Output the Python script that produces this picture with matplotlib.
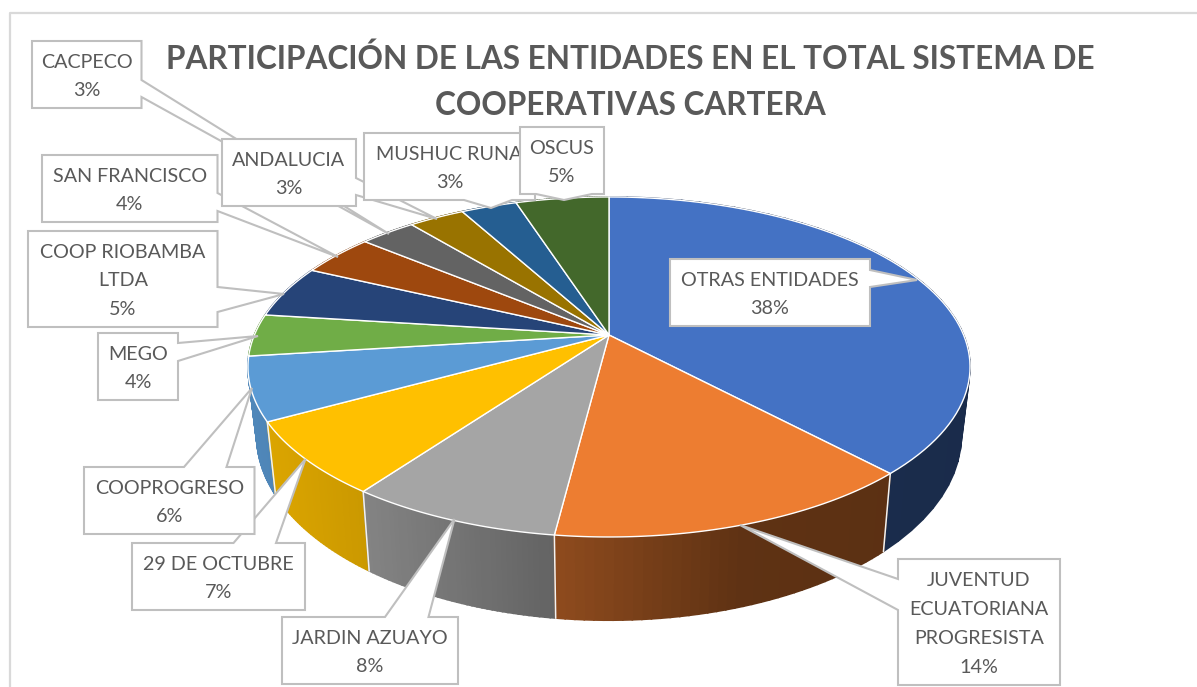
import numpy as np
import matplotlib
matplotlib.use('Agg')
import matplotlib.pyplot as plt
from matplotlib.colors import to_rgb

titulo = 'PARTICIPACIÓN DE LAS ENTIDADES EN EL TOTAL SISTEMA DE\nCOOPERATIVAS CARTERA'

# clockwise from 12 o'clock
entidades = ['OTRAS ENTIDADES', 'JUVENTUD\nECUATORIANA\nPROGRESISTA', 'JARDIN AZUAYO', '29 DE OCTUBRE',
             'COOPROGRESO', 'MEGO', 'COOP RIOBAMBA\nLTDA', 'SAN FRANCISCO', 'CACPECO', 'ANDALUCIA',
             'MUSHUC RUNA', 'OSCUS']
porcentajes = [38, 14, 8, 7, 6, 4, 5, 4, 3, 3, 3, 5]
colores = ['#4472C4', '#ED7D31', '#A5A5A5', '#FFC000', '#5B9BD5', '#70AD47',
           '#264478', '#9E480E', '#636363', '#997300', '#255E91', '#43682B']

# box (x0, y0, x1, y1), side of the callout, callout base and tip, in pixels
cajas = [(670, 259, 870, 326), (898, 559, 1060, 685), (282, 617, 458, 684), (132, 543, 305, 610),
         (84, 467, 254.5, 534), (98, 333, 178, 400), (28, 231, 217.5, 327), (42, 155, 217.5, 222),
         (32, 41, 141.5, 108), (222, 139, 356, 206), (364, 133, 535, 200), (520, 127, 604, 194)]
lados = ['r', 'l', 't', 't', 't', 'r', 'r', 'r', 'r', 'r', 'b', 'b']
bases = [(270, 287), (579, 610), (385, 428.5), (233.5, 276), (184, 226.5), (343, 361),
         (287, 312), (193, 211), (80, 97), (178, 195), (464, 512), (536, 592)]
puntas = [(917, 280), (740, 525), (454.5, 519), (305.5, 459), (252, 388), (258, 336),
          (284, 294), (338, 257), (389, 234), (437, 219), (491, 208), (564, 200)]

# perspective of the pie on the page
CX, CY = 609, 335
K = 0.188
TOP_A, TOP_B = 354.6, 164
BOT_A, BOT_B, BOT_C = 346, 178, 401


def borde(ang, a, b, c):
    u, v = np.sin(ang), -np.cos(ang)
    d = 1 - K * v
    return CX + a * u / d, c + b * v / d


def sombra(x):
    return np.interp(x, [250, 370, 555, 740, 970], [0.87, 0.79, 0.60, 0.40, 0.38])


def callout(i):
    x0, y0, x1, y1 = cajas[i]
    b0, b1 = bases[i]
    p = puntas[i]
    if lados[i] == 't':
        return [(x0, y0), (b0, y0), p, (b1, y0), (x1, y0), (x1, y1), (x0, y1)]
    if lados[i] == 'r':
        return [(x0, y0), (x1, y0), (x1, b0), p, (x1, b1), (x1, y1), (x0, y1)]
    if lados[i] == 'b':
        return [(x0, y0), (x1, y0), (x1, y1), (b1, y1), p, (b0, y1), (x0, y1)]
    return [(x0, y0), (x1, y0), (x1, y1), (x0, y1), (x0, b1), p, (x0, b0)]


plt.rcParams['font.family'] = ['Lato', 'DejaVu Sans']

fig = plt.figure(figsize=(11.97, 6.87), dpi=100)
ax = fig.add_axes([0, 0, 1, 1])
ax.set_xlim(0, 1197)
ax.set_ylim(687, 0)
ax.axis('off')

# chart frame, cut by the crop on the right and bottom
ax.plot([10, 10, 1197], [687, 13, 13], color='#D9D9D9', lw=1.6, zorder=1)

limites = np.cumsum([0] + porcentajes) / sum(porcentajes) * 2 * np.pi
medios = (limites[:-1] + limites[1:]) / 2

# side wall, back slices first
for i in np.argsort(-np.cos(medios)):
    t = np.linspace(limites[i], limites[i + 1], 40)
    xs, ys = borde(t, TOP_A, TOP_B, CY)
    xb, yb = borde(t, BOT_A, BOT_B, BOT_C)
    base = np.array(to_rgb(colores[i]))
    for j in range(len(t) - 1):
        c = base * sombra((xs[j] + xs[j + 1]) / 2)
        ax.fill([xs[j], xs[j + 1], xb[j + 1], xb[j]], [ys[j], ys[j + 1], yb[j + 1], yb[j]],
                color=c, lw=1.2, zorder=2)

for lim in limites[1:5]:
    xs, ys = borde(lim, TOP_A, TOP_B, CY)
    xb, yb = borde(lim, BOT_A, BOT_B, BOT_C)
    ax.plot([xs, xb], [ys, yb], color='#F2F2F2', lw=1.1, zorder=3)

# top face
for i, color in enumerate(colores):
    t = np.linspace(limites[i], limites[i + 1], 80)
    xs, ys = borde(t, TOP_A, TOP_B, CY)
    ax.fill(np.r_[CX, xs], np.r_[CY, ys], facecolor=color, edgecolor='white', lw=1.0, zorder=4)

# labels, later ones sit over earlier ones
for i, nombre in enumerate(entidades):
    pts = callout(i)
    z = 5 + i * 0.1
    ax.fill(*zip(*pts), facecolor='white', edgecolor='#BFBFBF', lw=1.5, zorder=z)
    x0, y0, x1, y1 = cajas[i]
    ax.text((x0 + x1) / 2, (y0 + y1) / 2 + 2, f'{nombre}\n{porcentajes[i]}%', ha='center', va='center',
            ma='center', fontsize=14.2, color='#595959', linespacing=1.85, zorder=z + 0.05)

ax.text(630, 82, titulo, ha='center', va='center', ma='center', fontsize=22.7, fontweight='bold',
        color='#595959', linespacing=1.71, zorder=4)

plt.savefig('out.png', dpi=100)
